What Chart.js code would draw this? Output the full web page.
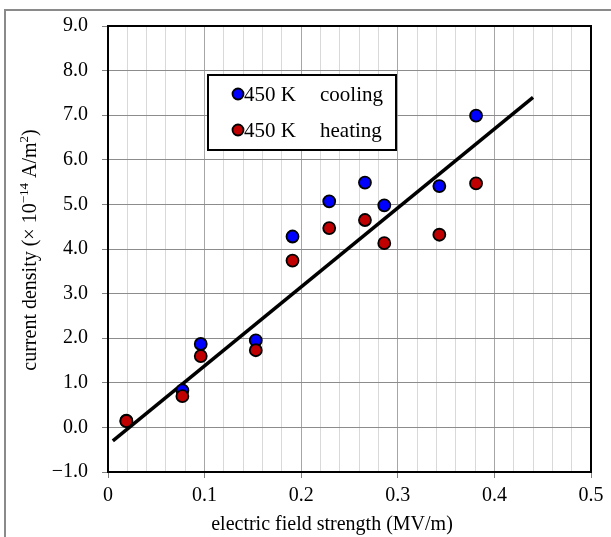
<!DOCTYPE html>
<html>
<head>
<meta charset="utf-8">
<script src="https://cdn.jsdelivr.net/npm/chart.js@4.4.1/dist/chart.umd.min.js"></script>
<style>
  html, body { margin: 0; padding: 0; background: #fff; }
  #wrap { position: relative; width: 611px; height: 537px; }
</style>
</head>
<body>
<div id="wrap"><canvas id="chart" width="611" height="537"></canvas></div>
<script>
// data
const fieldX   = [0.019, 0.077, 0.096, 0.153, 0.191, 0.229, 0.266, 0.286, 0.343, 0.381];
const coolingY = [0.15, 0.83, 1.87, 1.95, 4.28, 5.07, 5.49, 4.98, 5.41, 6.99];
const heatingY = [0.14, 0.70, 1.60, 1.73, 3.74, 4.47, 4.65, 4.13, 4.32, 5.47];
const fitX = [0.005, 0.44];
const fitY = [-0.3, 7.4];
const seriesNames = ['450 K    cooling', '450 K    heating'];
const xTitle = 'electric field strength (MV/m)';
// y title pieces: [text, superscript?]
const yTitleParts = [['current density (\u00d7 10', false], ['\u221214', true], [' A/m', false], ['2', true], [')', false]];

const serif = "'Liberation Serif', 'Times New Roman', serif";
Chart.defaults.font.family = serif;
Chart.defaults.font.size = 20;
Chart.defaults.color = '#000';

function pts(xs, ys) {
    return xs.map((x, i) => ({ x: x, y: ys[i] }));
}

function isMajor(v) {
    return Math.abs(v * 10 - Math.round(v * 10)) < 1e-6;
}

// grey outer frame + black box round plot area, titles, legend
const framePlugin = {
    id: 'frame',
    beforeDraw(chart) {
        const ctx = chart.ctx;
        ctx.save();
        ctx.fillStyle = '#fff';
        ctx.fillRect(0, 0, chart.width, chart.height);
        ctx.strokeStyle = '#8a8a8a';
        ctx.lineWidth = 2;
        ctx.beginPath();
        ctx.moveTo(5, chart.height);
        ctx.lineTo(5, 10);
        ctx.lineTo(chart.width, 10);
        ctx.stroke();
        ctx.restore();
    },
    afterDraw(chart) {
        const a = chart.chartArea;
        const ctx = chart.ctx;
        ctx.save();
        ctx.strokeStyle = '#000';
        ctx.lineWidth = 2;
        ctx.strokeRect(a.left, a.top, a.right - a.left, a.bottom - a.top);

        // x title
        ctx.fillStyle = '#000';
        ctx.font = '20px ' + serif;
        ctx.textAlign = 'center';
        ctx.textBaseline = 'alphabetic';
        ctx.fillText(xTitle, 332, 530);

        // y title, rotated, with real superscripts
        const big = '20px ' + serif, small = '13px ' + serif;
        let total = 0;
        yTitleParts.forEach(([t, sup]) => {
            ctx.font = sup ? small : big;
            total += ctx.measureText(t).width;
        });
        ctx.translate(36, 250);
        ctx.rotate(-Math.PI / 2);
        ctx.textAlign = 'left';
        let cx = -total / 2;
        yTitleParts.forEach(([t, sup]) => {
            ctx.font = sup ? small : big;
            ctx.fillText(t, cx, sup ? -8 : 0);
            cx += ctx.measureText(t).width;
        });
        ctx.restore();

        // legend
        ctx.save();
        ctx.fillStyle = '#fff';
        ctx.fillRect(208, 75, 188, 75);
        ctx.strokeStyle = '#000';
        ctx.lineWidth = 2;
        ctx.strokeRect(208, 75, 188, 75);
        const colors = ['#0000ff', '#c00000'];
        const rows = [94, 130];
        ctx.font = '21px ' + serif;
        ctx.textAlign = 'left';
        ctx.textBaseline = 'middle';
        rows.forEach((yy, i) => {
            ctx.beginPath();
            ctx.arc(238, yy, 5.5, 0, Math.PI * 2);
            ctx.fillStyle = colors[i];
            ctx.fill();
            ctx.lineWidth = 1.8;
            ctx.strokeStyle = '#000';
            ctx.stroke();
            const parts = seriesNames[i].split(/\s{2,}/);
            ctx.fillStyle = '#000';
            ctx.fillText(parts[0], 244, yy + 1);
            ctx.fillText(parts[1], 320, yy + 1);
        });
        ctx.restore();
    }
};

new Chart(document.getElementById('chart'), {
    type: 'scatter',
    data: {
        datasets: [{
            label: 'fit',
            type: 'line',
            data: pts(fitX, fitY),
            borderColor: '#000',
            borderWidth: 3.5,
            pointRadius: 0,
            fill: false,
            order: 3
        }, {
            label: seriesNames[0],
            data: pts(fieldX, coolingY),
            backgroundColor: '#0000ff',
            borderColor: '#000',
            borderWidth: 1.8,
            pointRadius: 6,
            order: 2
        }, {
            label: seriesNames[1],
            data: pts(fieldX, heatingY),
            backgroundColor: '#c00000',
            borderColor: '#000',
            borderWidth: 1.8,
            pointRadius: 6,
            order: 1
        }]
    },
    options: {
        responsive: false,
        animation: false,
        layout: { padding: { left: 0, top: 26, right: 20, bottom: 0 } },
        plugins: {
            legend: { display: false },
            tooltip: { enabled: false }
        },
        scales: {
            x: {
                type: 'linear',
                min: 0,
                max: 0.5,
                afterFit: (scale) => { scale.height = 65; },
                border: { color: '#000', width: 2 },
                grid: {
                    color: (c) => isMajor(c.tick.value) ? '#a6a6a6' : '#d9d9d9',
                    tickColor: (c) => isMajor(c.tick.value) ? '#808080' : 'rgba(0,0,0,0)',
                    tickLength: 6
                },
                ticks: {
                    stepSize: 0.02,
                    autoSkip: false,
                    maxTicksLimit: 100,
                    maxRotation: 0,
                    padding: 6,
                    callback: (v) => isMajor(v) ? (Math.abs(v) < 1e-9 ? '0' : v.toFixed(1)) : ''
                }
            },
            y: {
                type: 'linear',
                min: -1,
                max: 9,
                afterFit: (scale) => { scale.width = 108; },
                border: { color: '#000', width: 2 },
                grid: {
                    color: '#8c8c8c',
                    tickColor: '#808080',
                    tickLength: 6
                },
                ticks: {
                    stepSize: 1,
                    padding: 14,
                    callback: (v) => v < 0 ? '\u2212' + Math.abs(v).toFixed(1) : v.toFixed(1)
                }
            }
        }
    },
    plugins: [framePlugin]
});
</script>
</body>
</html>
